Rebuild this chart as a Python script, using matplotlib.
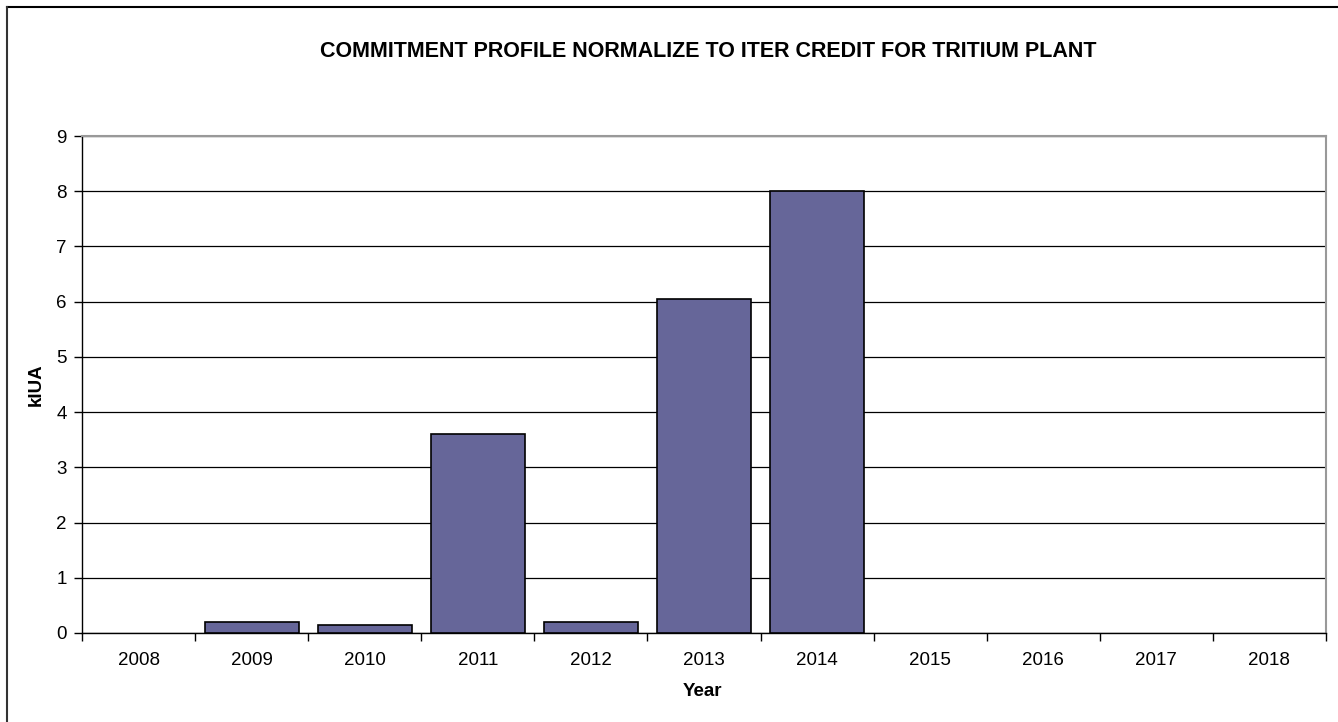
import matplotlib
matplotlib.use("Agg")
import matplotlib.pyplot as plt
from matplotlib.lines import Line2D

# commitment per year, kIUA
years = ["2008", "2009", "2010", "2011", "2012", "2013", "2014", "2015", "2016", "2017", "2018"]
commitment = [0.0, 0.19, 0.15, 3.6, 0.19, 6.05, 8.0, 0.0, 0.0, 0.0, 0.0]

plt.rcParams["font.family"] = ["Liberation Sans", "DejaVu Sans"]

fig = plt.figure(figsize=(13.38, 7.22), dpi=100)
ax = fig.add_axes([0.0613, 0.1233, 0.9297, 0.6883])

x = range(len(years))
edges = ["black" if v > 0 else "none" for v in commitment]
ax.bar(x, commitment, width=0.83, color="#666699", edgecolor=edges, linewidth=1.2, zorder=3)

ax.set_xlim(-0.5, len(years) - 0.5)
ax.set_ylim(0, 9)
ax.set_yticks(range(10))
ax.set_xticks(list(x))
ax.set_xticklabels(years)
ax.tick_params(axis="x", which="major", length=0, labelsize=13.5, pad=14)
ax.set_xticks([i + 0.5 for i in range(-1, len(years))], minor=True)
ax.tick_params(axis="x", which="minor", length=6, width=1, direction="out")
ax.tick_params(axis="y", length=6, width=1, labelsize=13.5, pad=5)

ax.yaxis.grid(True, color="black", linewidth=0.9, zorder=0)
ax.set_axisbelow(True)
for side in ("top", "right"):
    ax.spines[side].set_color("#999999")
    ax.spines[side].set_linewidth(1.5)
for side in ("left", "bottom"):
    ax.spines[side].set_color("black")
    ax.spines[side].set_linewidth(1)

ax.set_xlabel("Year", fontsize=13.5, fontweight="bold")
ax.xaxis.set_label_coords(0.499, -0.101)
ax.set_ylabel("kIUA", fontsize=13.5, fontweight="bold")
ax.yaxis.set_label_coords(-0.03, 0.5)
fig.text(0.529, 0.928, "COMMITMENT PROFILE NORMALIZE TO ITER CREDIT FOR TRITIUM PLANT",
         ha="center", va="center", fontsize=15.5, fontweight="bold")

# outer chart frame
fig.add_artist(Line2D([0.0055, 1.0], [0.9905, 0.9905], transform=fig.transFigure, color="black", linewidth=1.5))
fig.add_artist(Line2D([0.0055, 0.0055], [0.0, 0.9905], transform=fig.transFigure, color="#333333", linewidth=1.5))

fig.savefig("out.png", dpi=100)
